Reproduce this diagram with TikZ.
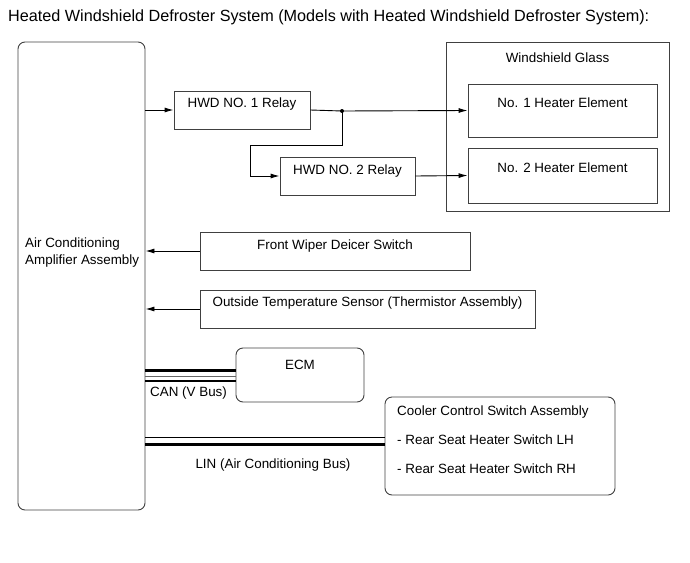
\documentclass[tikz,border=0pt]{standalone}
\usepackage{fontspec}
\setmainfont{Liberation Sans}
\usetikzlibrary{arrows.meta}

\tikzset{
  box/.style={draw=black!75, line width=0.9pt, rectangle, inner sep=0pt},
  rbox/.style={box, rounded corners=7pt},
  toptext/.style={anchor=base, inner sep=0pt, yshift=-#1},
  toptext/.default=16.5pt,
  wire/.style={line width=0.9pt},
  arr/.style={wire, -{Latex[length=9pt,width=5pt]}},
  bus/.style={line width=3pt}
}

\begin{document}
\begin{tikzpicture}[x=1pt,y=-1pt,font=\fontsize{13.4}{17}\selectfont]

\useasboundingbox (0,0) rectangle (690,562);

\node[anchor=west, inner sep=0pt, font=\fontsize{16.2}{19}\selectfont] (title) at (8,17)
{Heated Windshield Defroster System (Models with Heated Windshield Defroster System):};

% Amplifier
\node[rbox, minimum width=127pt, minimum height=468pt] (amp) at (81.5,276) {};
\node[anchor=west, align=left, inner sep=0pt] (amptext) at (25,253)
{Air Conditioning\\Amplifier Assembly};

% Relays
\node[box, minimum width=136pt, minimum height=38pt,
  label={[toptext]north:HWD NO. 1 Relay}] (relay1) at (242,110) {};
\node[box, minimum width=135pt, minimum height=38pt,
  label={[toptext=17.5pt]north:HWD NO. 2 Relay}] (relay2) at (347.5,176) {};

% Windshield glass
\node[box, minimum width=223pt, minimum height=169pt,
  label={[toptext=20.5pt]north:Windshield Glass}] (glass) at (557.5,126.5) {};
\node[box, minimum width=189pt, minimum height=53pt,
  label={[toptext=23.5pt]north:No. 1 Heater Element}] (heater1) at (562.5,110.5) {};
\node[box, minimum width=189pt, minimum height=55pt,
  label={[toptext=24.5pt]north:No. 2 Heater Element}] (heater2) at (562.5,175.5) {};

% Switch and sensor
\node[box, minimum width=270pt, minimum height=38pt,
  label={[toptext=17.5pt]north:Front Wiper Deicer Switch}] (wiper) at (335,251) {};
\node[box, minimum width=335pt, minimum height=38pt,
  label={[toptext]north:Outside Temperature Sensor (Thermistor Assembly)}] (ots) at (367.5,309) {};

% ECM
\node[rbox, minimum width=128pt, minimum height=54pt,
  label={[toptext=21.5pt]north:ECM}] (ecm) at (300,375) {};

% Cooler control switch
\node[rbox, minimum width=230pt, minimum height=98pt] (cooler) at (500,446) {};
\node[anchor=north west, align=left, inner sep=0pt] (coolertext) at (397,406)
{Cooler Control Switch Assembly\\[12pt]
- Rear Seat Heater Switch LH\\[12pt]
- Rear Seat Heater Switch RH};

% Heater circuit
\coordinate (jct) at (342,111);
\coordinate (bendA) at (342,145);
\coordinate (bendB) at (250,145);

\draw[arr] (amp.east |- relay1.west) -- (relay1.west);
\draw[wire] (relay1.east) -- (jct);
\draw[arr] (jct) -- (heater1.west);
\fill (jct) circle (2pt);
\draw[arr]
(jct)
--
(bendA)
--
(bendB)
--
(bendB |- relay2.west)
--
(relay2.west);
\draw[arr] (relay2.east) -- (heater2.west);

% Inputs
\draw[arr] (wiper.west) -- (amp.east |- wiper.west);
\draw[arr] (ots.west) -- (amp.east |- ots.west);

% CAN
\draw[bus] ([yshift=5pt]amp.east |- ecm.west) -- ([yshift=5pt]ecm.west);
\draw[line width=0.7pt, black!60] ([yshift=-1pt]amp.east |- ecm.west) -- ([yshift=-1pt]ecm.west);
\draw[line width=2pt] ([yshift=-5.5pt]amp.east |- ecm.west) -- ([yshift=-5.5pt]ecm.west);
\node[anchor=west, inner sep=0pt] (can) at (150,393) {CAN (V Bus)};

% LIN
\draw[line width=0.9pt] ([yshift=9pt]amp.east |- cooler.west) -- ([yshift=9pt]cooler.west);
\draw[bus] ([yshift=2pt]amp.east |- cooler.west) -- ([yshift=2pt]cooler.west);
\node (lin) at (273,465) {LIN (Air Conditioning Bus)};

\end{tikzpicture}
\end{document}
